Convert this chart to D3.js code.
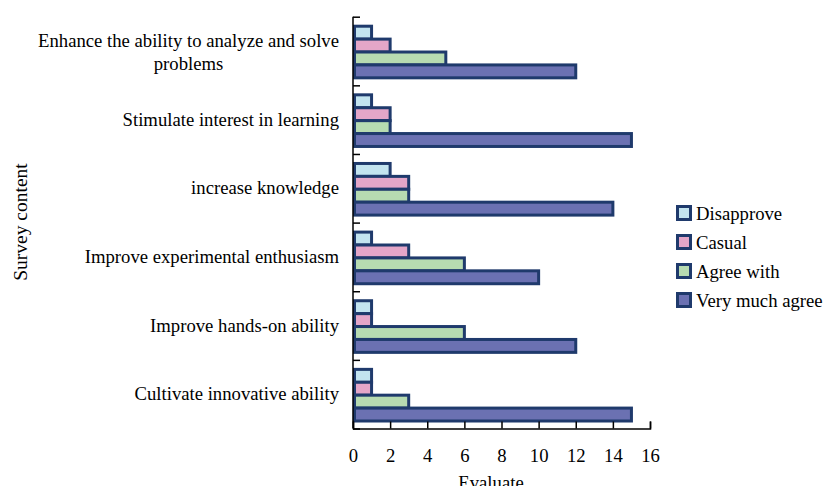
<!DOCTYPE html>
<html>
<head>
<meta charset="utf-8">
<title>Survey content</title>
<style>
    body { margin: 0; background: #fff; }
    text { font-family: "Liberation Serif", "Times New Roman", serif; fill: #000; }
</style>
</head>
<body>
<svg width="824" height="486"></svg>
<script src="https://d3js.org/d3.v7.min.js"></script>
<script>

    // data (top to bottom as in the chart)
    var categories = [
        "Enhance the ability to analyze and solve problems",
        "Stimulate interest in learning",
        "increase knowledge",
        "Improve experimental enthusiasm",
        "Improve hands-on ability",
        "Cultivate innovative ability"
    ];
    var seriesNames = ["Disapprove", "Casual", "Agree with", "Very much agree"];
    var disapprove = [1, 1, 2, 1, 1, 1];
    var casual = [2, 2, 3, 3, 1, 1];
    var agreeWith = [5, 2, 3, 6, 6, 3];
    var veryMuchAgree = [12, 15, 14, 10, 12, 15];
    var xTicks = [0, 2, 4, 6, 8, 10, 12, 14, 16];

    var seriesValues = [disapprove, casual, agreeWith, veryMuchAgree];
    var colors = ["#c3e4ef", "#e4a6c8", "#b7dbb1", "#6b71b2"];
    var edge = "#1f3a6c";
    var fs = "18.7px";

    var svg = d3.select("svg");
    var plotL = 353, plotR = 650, plotT = 16.7, plotB = 428.5;

    var x = d3.scaleLinear().domain([0, 16]).range([plotL, plotR]);
    var y = d3.scaleBand().domain(categories).range([plotT, plotB]);
    var yIdx = d3.scaleLinear().domain([0, categories.length]).range([plotT, plotB]);
    var inner = d3.scaleBand().domain(seriesNames)
        .range([9.5, y.bandwidth() - 7.5]).padding(0);

    // bars
    var groups = svg.append("g").selectAll("g")
        .data(categories)
        .join("g")
        .attr("transform", function (d) { return "translate(0," + y(d) + ")"; });

    groups.selectAll("rect")
        .data(function (d, i) {
            return seriesNames.map(function (s, j) {
                return {series: s, value: seriesValues[j][i], k: j};
            });
        })
        .join("rect")
        .attr("x", x(0) + 1.5)
        .attr("y", function (d) { return inner(d.series); })
        .attr("width", function (d) { return x(d.value) - x(0) - 1.5; })
        .attr("height", inner.bandwidth())
        .attr("fill", function (d) { return colors[d.k]; })
        .attr("stroke", edge)
        .attr("stroke-width", 3);

    // x axis
    var xAxis = svg.append("g")
        .attr("transform", "translate(0," + plotB + ")")
        .call(d3.axisBottom(x).tickValues(xTicks).tickSizeInner(-7).tickSizeOuter(-7).tickPadding(20));
    xAxis.selectAll("text").attr("font-size", fs);
    xAxis.selectAll("line, path").attr("stroke", "#000").attr("stroke-width", 1.5);

    // y axis ticks at band boundaries
    var yAxis = svg.append("g")
        .attr("transform", "translate(" + plotL + ",0)")
        .call(d3.axisLeft(yIdx).tickValues(d3.range(categories.length + 1)).tickSize(-7).tickFormat(""));
    yAxis.select(".domain").remove();
    yAxis.selectAll("line").attr("stroke", "#000").attr("stroke-width", 1.5);
    svg.append("line")
        .attr("x1", plotL).attr("x2", plotL)
        .attr("y1", plotT).attr("y2", plotB)
        .attr("stroke", "#000").attr("stroke-width", 1.5);

    // category labels
    var labelG = svg.append("g")
        .attr("transform", "translate(" + plotL + ",0)")
        .call(d3.axisLeft(y).tickSize(0).tickPadding(14));
    labelG.select(".domain").remove();
    labelG.selectAll("text").attr("font-size", fs).each(function (d) {
        if (d.length > 40) {
            var t = d3.select(this);
            var words = d.split(" ");
            var first = words.slice(0, 7).join(" ");
            var second = words.slice(7).join(" ");
            t.text(first);
            var w = this.getComputedTextLength();
            var xr = +t.attr("x");
            t.text(null).attr("dy", null);
            t.append("tspan").attr("x", xr).attr("dy", "-0.2em").text(first);
            t.append("tspan").attr("x", xr - w / 2).attr("dy", "1.2em")
                .attr("text-anchor", "middle").text(second);
        }
    });

    // axis titles
    svg.append("text")
        .attr("x", 491).attr("y", 489)
        .attr("text-anchor", "middle")
        .attr("font-size", fs)
        .text("Evaluate");
    svg.append("text")
        .attr("transform", "translate(27,222) rotate(-90)")
        .attr("text-anchor", "middle")
        .attr("font-size", "19.5px")
        .text("Survey content");

    // legend
    var legend = svg.append("g").attr("transform", "translate(676,205)")
        .selectAll("g")
        .data(seriesNames)
        .join("g")
        .attr("transform", function (d, i) { return "translate(0," + i * 29 + ")"; });
    legend.append("rect")
        .attr("x", 1.5).attr("y", 1.5)
        .attr("width", 13).attr("height", 13)
        .attr("fill", function (d, i) { return colors[i]; })
        .attr("stroke", edge)
        .attr("stroke-width", 3);
    legend.append("text")
        .attr("x", 20).attr("y", 14.5)
        .attr("font-size", fs)
        .text(function (d) { return d; });

</script>
</body>
</html>
